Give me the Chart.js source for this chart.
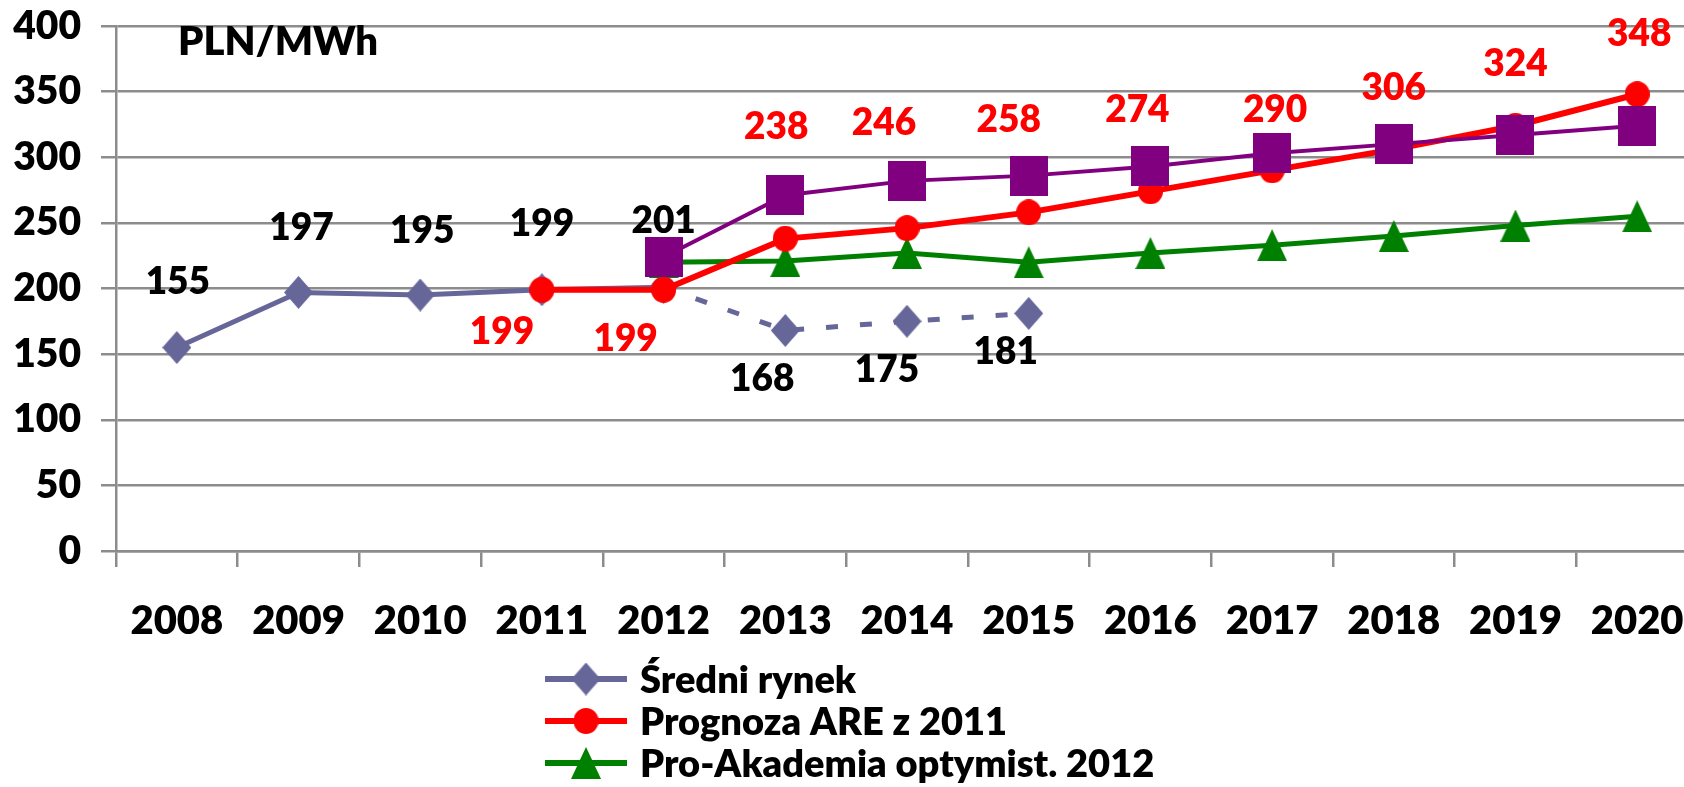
<!DOCTYPE html>
<html>
<head>
<meta charset="utf-8">
<script src="https://cdn.jsdelivr.net/npm/chart.js@4.4.1/dist/chart.umd.min.js"></script>
<style>
html, body { margin: 0; padding: 0; overflow: hidden; background: #fff; }
</style>
</head>
<body>
<canvas id="line-chart" width="1722" height="787"></canvas>
<script>
let years = ["2008","2009","2010","2011","2012","2013","2014","2015","2016","2017","2018","2019","2020"];
let sredni_rynek = [155, 197, 195, 199, 201, 168, 175, 181, null, null, null, null, null];
let prognoza_are = [null, null, null, 199, 199, 238, 246, 258, 274, 290, 306, 324, 348];
let pro_akademia = [null, null, null, null, 220, 221, 227, 220, 227, 233, 240, 248, 255];
let kwadraty = [null, null, null, null, 224, 271, 282, 286, 293, 303, 310, 317, 324];
let y_max = 400;
let y_step = 50;
let unit = "PLN/MWh";

const FONT = "Lato, 'Open Sans', sans-serif";
const W = 800;
const GRID = "#8c8c8c";

// marker pictures, Excel style (diamonds and triangles a bit taller than wide)
function marker(shape, color, w, h) {
  const c = document.createElement('canvas');
  c.width = w; c.height = h;
  const g = c.getContext('2d');
  g.fillStyle = color;
  g.beginPath();
  if (shape === 'diamond') { g.moveTo(w/2, 0); g.lineTo(w, h/2); g.lineTo(w/2, h); g.lineTo(0, h/2); }
  else if (shape === 'triangle') { g.moveTo(w/2, 0); g.lineTo(w, h); g.lineTo(0, h); }
  else if (shape === 'square') { g.rect(0, 0, w, h); }
  else { g.ellipse(w/2, h/2, w/2, h/2, 0, 0, Math.PI*2); }
  g.closePath();
  g.fill();
  return c;
}

const mk_sredni = marker('diamond', '#666699', 29, 33);
const mk_are = marker('circle', '#ff0000', 25, 26);
const mk_pro = marker('triangle', '#008000', 30, 32);
const mk_kw = marker('square', '#800080', 38, 40);

// value labels, offsets from the point in px (by data index)
const labelPlugin = {
  id: 'valueLabels',
  afterDatasetsDraw(chart, args, opts) {
    const ctx = chart.ctx;
    ctx.save();
    ctx.font = W + " " + opts.size + "px " + FONT;
    ctx.textAlign = 'center';
    ctx.textBaseline = 'alphabetic';
    opts.sets.forEach(s => {
      const meta = chart.getDatasetMeta(s.dataset);
      const data = chart.data.datasets[s.dataset].data;
      meta.data.forEach((pt, i) => {
        if (data[i] == null || !s.offsets[i]) return;
        ctx.fillStyle = s.color;
        ctx.fillText(String(data[i]), pt.x + s.offsets[i][0], pt.y + s.offsets[i][1] + opts.size * 0.36);
      });
    });
    // unit text in the top left corner
    ctx.textAlign = 'left';
    ctx.fillStyle = '#000';
    ctx.font = W + " 40px " + FONT;
    ctx.fillText(unit, chart.chartArea.left + 62, chart.chartArea.top + 29);
    ctx.restore();
  }
};

// legend: line + marker + text, in one column below the axis
const legendPlugin = {
  id: 'excelLegend',
  afterDraw(chart, args, opts) {
    const ctx = chart.ctx;
    ctx.save();
    ctx.font = W + " 38px " + FONT;
    ctx.textBaseline = 'alphabetic';
    ctx.textAlign = 'left';
    opts.items.forEach((idx, row) => {
      const ds = chart.data.datasets[idx];
      const y = opts.top + row * opts.rowHeight;
      ctx.strokeStyle = ds.borderColor;
      ctx.lineWidth = 6;
      ctx.beginPath();
      ctx.moveTo(opts.left, y);
      ctx.lineTo(opts.left + 82, y);
      ctx.stroke();
      const m = ds.pointStyle;
      ctx.drawImage(m, opts.left + 41 - m.width/2, y - m.height/2);
      ctx.fillStyle = '#000';
      ctx.fillText(ds.label, opts.left + 95, y + 14);
    });
    ctx.restore();
  }
};

const ctx = document.getElementById('line-chart');
const myChart = new Chart(ctx, {
  type: 'line',
  data: {
    labels: years,
    datasets: [
      {
        label: "Średni rynek",
        data: sredni_rynek,
        borderColor: "#666699",
        backgroundColor: "#666699",
        borderWidth: 5,
        pointStyle: mk_sredni,
        pointRadius: 16,
        order: 3,
        segment: { borderDash: c => c.p0DataIndex >= 4 ? [12, 22] : undefined },
        fill: false
      },
      {
        label: "Prognoza ARE z 2011",
        data: prognoza_are,
        borderColor: "#ff0000",
        backgroundColor: "#ff0000",
        borderWidth: 6,
        pointStyle: mk_are,
        pointRadius: 12,
        order: 1,
        fill: false
      },
      {
        label: "Pro-Akademia optymist. 2012",
        data: pro_akademia,
        borderColor: "#008000",
        backgroundColor: "#008000",
        borderWidth: 5,
        pointStyle: mk_pro,
        pointRadius: 16,
        order: 2,
        fill: false
      },
      {
        label: "",
        data: kwadraty,
        borderColor: "#800080",
        backgroundColor: "#800080",
        borderWidth: 4,
        pointStyle: mk_kw,
        pointRadius: 20,
        order: 0,
        fill: false
      }
    ]
  },
  options: {
    responsive: false,
    animation: false,
    layout: { padding: { top: 26, left: 0, right: 0, bottom: 126 } },
    scales: {
      x: {
        offset: true,
        grid: { offset: true, drawOnChartArea: false, drawTicks: true, tickLength: 16, color: GRID, lineWidth: 2.5 },
        border: { display: true, color: GRID, width: 2.5 },
        ticks: { color: '#000', font: { family: FONT, size: 40, weight: W }, padding: 30, maxRotation: 0, autoSkip: false },
        afterFit: s => { s.height = 110; }
      },
      y: {
        min: 0,
        max: y_max,
        grid: { color: GRID, lineWidth: 2.5, tickLength: 15 },
        border: { display: true, color: GRID, width: 2.5 },
        ticks: { stepSize: y_step, color: '#000', font: { family: FONT, size: 39, weight: W, lineHeight: 0.2 }, padding: 20 },
        afterFit: s => { s.width = 116; }
      }
    },
    plugins: {
      legend: { display: false },
      tooltip: { enabled: false },
      valueLabels: {
        size: 37,
        sets: [
          { dataset: 0, color: '#000',
            offsets: [[1,-67],[3,-66],[2,-65],[0,-67],[0,-68],[-23,47],[-20,47],[-23,37]] },
          { dataset: 1, color: '#ff0000',
            offsets: [null,null,null,[-40,41],[-38,48],[-9,-113],[-23,-106],[-20,-94],[-13,-83],[3,-62],[0,-63],[0,-63],[2,-62]] }
        ]
      },
      excelLegend: { items: [0, 1, 2], left: 545, top: 679, rowHeight: 42 }
    }
  },
  plugins: [labelPlugin, legendPlugin]
});
</script>
</body>
</html>
